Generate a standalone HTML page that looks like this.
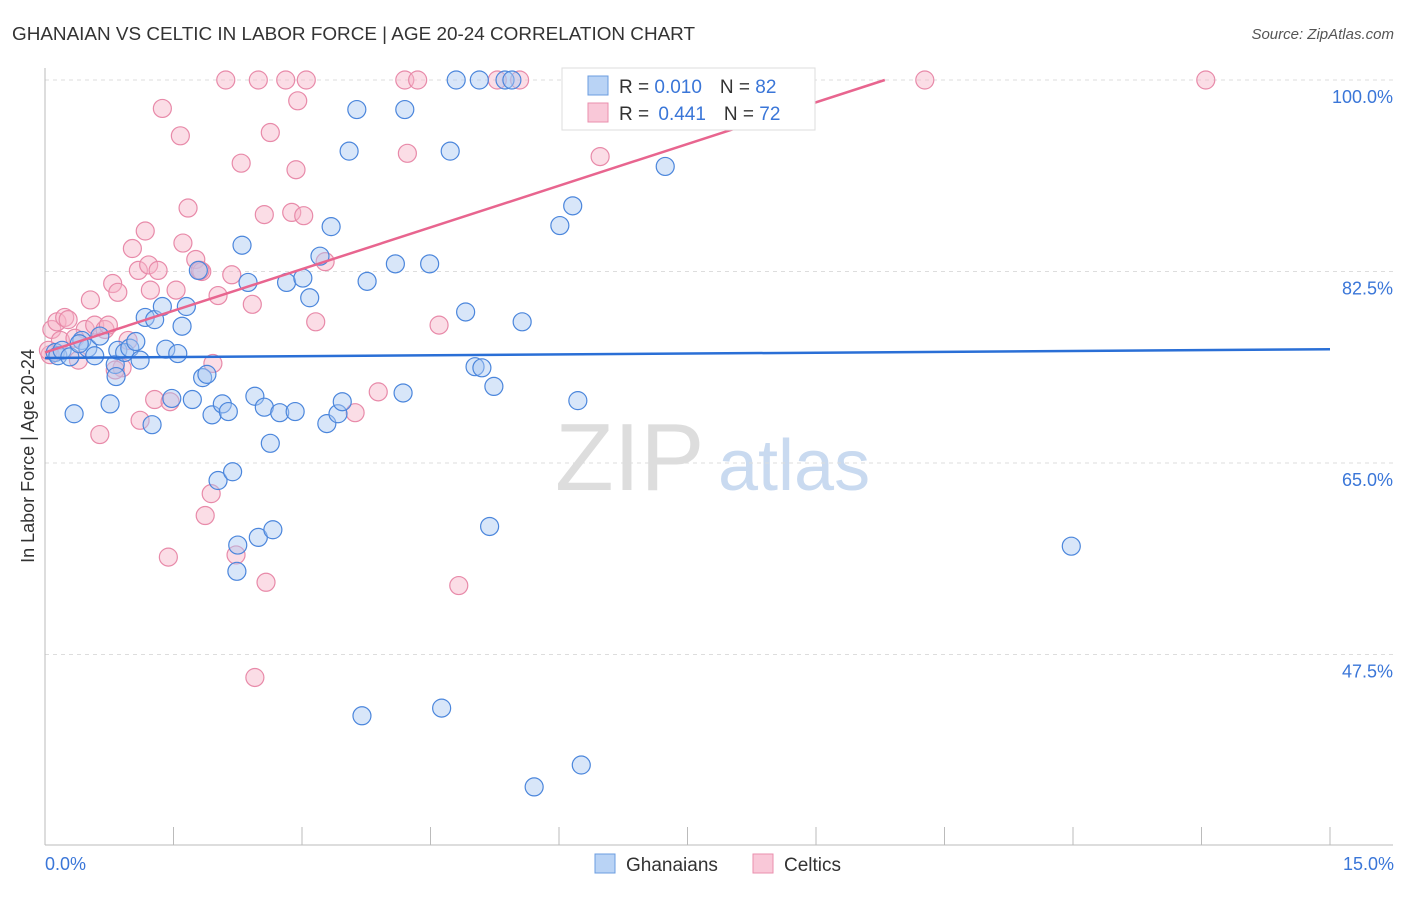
<!DOCTYPE html>
<html><head><meta charset="utf-8"><style>
body{margin:0;background:#fff;font-family:"Liberation Sans",sans-serif}
svg text{font-family:"Liberation Sans",sans-serif}
</style></head><body>
<svg id="chart" width="1406" height="892">
<text x="12" y="40" font-size="18.9" fill="#333">GHANAIAN VS CELTIC IN LABOR FORCE | AGE 20-24 CORRELATION CHART</text>
<text x="1394" y="39" font-size="15" fill="#555" font-style="italic" text-anchor="end">Source: ZipAtlas.com</text>
<text x="555" y="490" font-size="96" fill="#ddd" font-family="Liberation Serif">ZIP</text>
<text x="718" y="490" font-size="72" fill="#c9daf0">atlas</text>
<g id="grid"></g><g id="axes"></g><g id="pts"></g><g id="lines"></g>
<text transform="translate(34,456) rotate(-90)" font-size="18" fill="#333" text-anchor="middle">In Labor Force | Age 20-24</text>
<text x="45" y="870" font-size="18" fill="#3a76d8">0.0%</text>
<text x="1394" y="870" font-size="18" fill="#3a76d8" text-anchor="end">15.0%</text>
<g>
<rect x="562" y="68" width="253" height="62" fill="#fff" stroke="#ddd"/>
<rect x="588" y="76" width="20" height="19" fill="#b9d3f5" stroke="#6b9de0"/>
<rect x="588" y="103" width="20" height="19" fill="#f9c8d8" stroke="#ea8fae"/>
<text x="619" y="93" font-size="19" fill="#333">R = <tspan fill="#3a76d8">0.010</tspan><tspan dx="18">N = </tspan><tspan fill="#3a76d8">82</tspan></text>
<text x="619" y="120" font-size="19" fill="#333">R = <tspan dx="4" fill="#3a76d8">0.441</tspan><tspan dx="18">N = </tspan><tspan fill="#3a76d8">72</tspan></text>
</g>
<g>
<rect x="595" y="854" width="20" height="19" fill="#b9d3f5" stroke="#6b9de0"/>
<text x="626" y="871" font-size="19" fill="#333">Ghanaians</text>
<rect x="753" y="854" width="20" height="19" fill="#f9c8d8" stroke="#ea8fae"/>
<text x="784" y="871" font-size="19" fill="#333">Celtics</text>
</g>
</svg>
<script>
const yTicks=[100,82.5,65,47.5];
const yTickLabels=["100.0%","82.5%","65.0%","47.5%"];
const blueX=[.12,.15,.20,.29,.34,.43,.50,.58,.64,.76,.82,.85,.93,.99,1.06,1.11,1.17,1.25,1.28,1.37,1.41,1.48,1.55,1.60,1.65,1.72,1.79,1.84,1.89,1.95,2.02,2.07,2.14,2.19,2.25,2.30,2.37,2.45,2.49,2.56,2.63,2.66,2.74,2.82,2.92,3.01,3.09,3.21,3.29,3.34,3.42,3.47,3.55,3.64,3.70,3.76,4.09,4.18,4.20,4.49,4.63,4.73,4.80,4.91,5.02,5.10,5.19,5.24,5.37,5.45,5.57,5.71,6.01,6.16,6.22,6.26,7.24,11.98,5.07,2.24,.83,.40];
const blueY=[75.1,74.8,75.3,74.7,69.5,76.2,75.5,74.8,76.6,70.4,74.0,75.3,75.1,75.5,76.1,74.4,78.3,68.5,78.1,79.3,75.4,70.9,75.0,77.5,79.3,70.8,82.6,72.8,73.1,69.4,63.4,70.4,69.7,64.2,57.5,84.9,81.5,71.1,58.2,70.1,66.8,58.9,69.6,81.5,69.7,81.9,80.1,83.9,68.6,86.6,69.5,70.6,93.5,97.3,41.9,81.6,83.2,71.4,97.3,83.2,42.6,93.5,100,78.8,73.8,73.7,59.2,72.0,100,100,77.9,35.4,86.7,88.5,70.7,37.4,92.1,57.4,100,55.1,72.9,75.9];
const pinkX=[.06,.08,.14,.18,.23,.27,.39,.47,.53,.58,.64,.70,.74,.79,.85,.90,.97,1.02,1.09,1.11,1.17,1.21,1.28,1.32,1.37,1.44,1.46,1.53,1.58,1.61,1.67,1.76,1.83,1.87,1.94,1.96,2.02,2.11,2.18,2.23,2.29,2.42,2.45,2.49,2.56,2.58,2.63,2.81,2.88,2.93,2.95,3.02,3.05,3.16,3.27,3.62,3.89,4.20,4.23,4.35,4.60,4.83,5.28,5.54,6.48,10.27,13.55,.04,.35,1.23,1.81,.82];
const pinkY=[74.9,77.2,77.9,76.2,78.3,78.1,74.4,77.2,79.9,77.6,67.6,77.2,77.6,81.4,80.6,73.7,76.2,84.6,82.6,68.9,86.2,83.1,70.8,82.6,97.4,56.4,70.6,80.8,94.9,85.1,88.3,83.6,82.5,60.2,62.2,74.1,80.3,100,82.2,56.6,92.4,79.5,45.4,100,87.7,54.1,95.2,100,87.9,91.8,98.1,87.6,100,77.9,83.4,69.6,71.5,100,93.3,100,77.6,53.8,100,100,93.0,100,100,75.3,76.4,80.8,82.6,73.5];
const blueFit=[74.6,75.4];
const pinkFit=[75.1,2.54];
const NS='http://www.w3.org/2000/svg';
const sx=v=>45+v/15*1285;
const sy=v=>80+(100-v)/17.5*191.5;
function mk(tag,parent,attrs){const e=document.createElementNS(NS,tag);for(const k in attrs)e.setAttribute(k,attrs[k]);document.getElementById(parent).appendChild(e);return e;}
yTicks.forEach((t,i)=>{
 const l=mk('line','grid',{x1:45,x2:1393,y1:sy(t),y2:sy(t),stroke:'#ddd','stroke-dasharray':'4,4'});
 
 
 const tx=mk('text','grid',{x:1393,y:sy(t)+23,'font-size':18,fill:'#3a76d8','text-anchor':'end'});
 tx.textContent=yTickLabels[i];
 
 
});
let a=mk('line','axes',{x1:45,x2:45,y1:68,y2:845,stroke:'#bbb'});


a=mk('line','axes',{x1:45,x2:1393,y1:845,y2:845,stroke:'#bbb'});


for(let i=0;i<=10;i++){const t=mk('line','axes',{x1:sx(i*1.5),x2:sx(i*1.5),y1:827,y2:845,stroke:'#bbb'});
 
 }
function dots(xs,ys,fill,stroke,name){xs.forEach((x,i)=>{const c=mk('circle','pts',{cx:sx(x),cy:sy(ys[i]),r:9,fill:fill,'fill-opacity':0.45,stroke:stroke,'stroke-width':1.2});
 
 });}
dots(pinkX,pinkY,'#f6b3c8','#e88aa9','celtic-point');
dots(blueX,blueY,'#a9c8f2','#4b86dc','ghanaian-point');
let bl=mk('line','lines',{x1:sx(0),y1:sy(blueFit[0]),x2:sx(15),y2:sy(blueFit[1]),stroke:'#2a6fd6','stroke-width':2.5});


const xEnd=(100-pinkFit[0])/pinkFit[1];
let pl=mk('line','lines',{x1:sx(0),y1:sy(pinkFit[0]),x2:sx(xEnd),y2:sy(100),stroke:'#e8658f','stroke-width':2.5});


</script>
</body></html>
